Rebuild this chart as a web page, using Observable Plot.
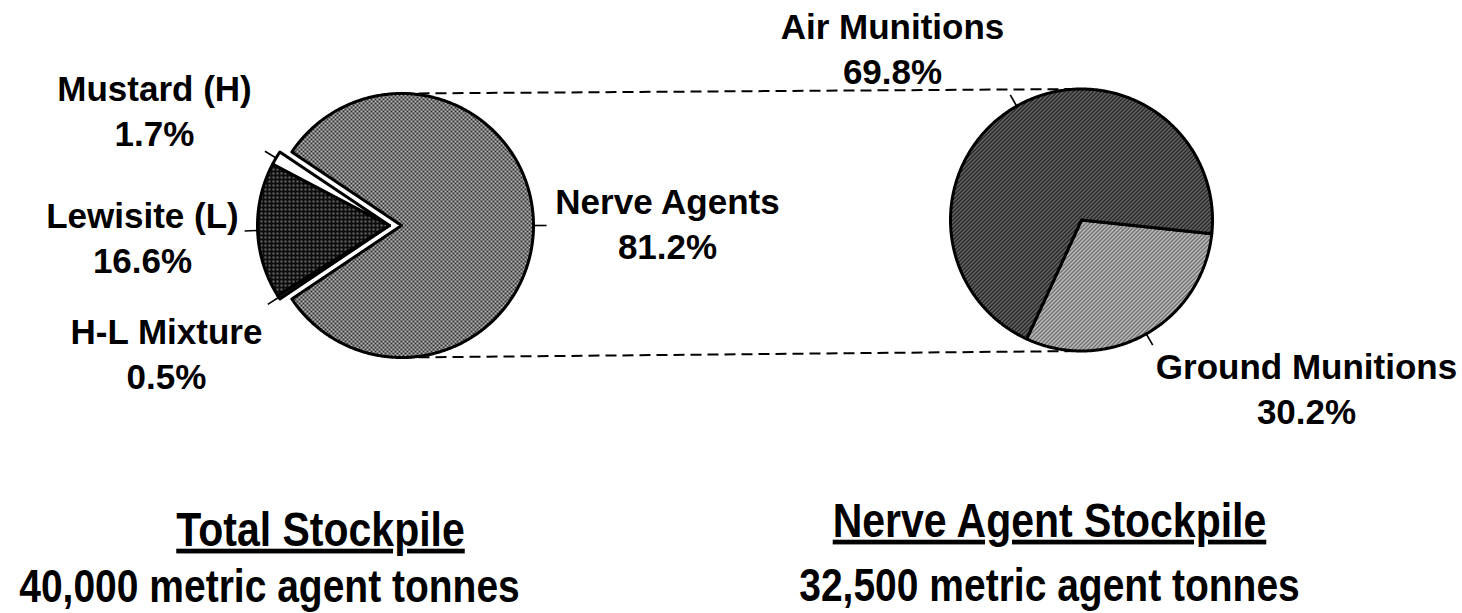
<!DOCTYPE html>
<html><head><meta charset="utf-8">
<script src="https://cdn.jsdelivr.net/npm/d3@7"></script>
<script src="https://cdn.jsdelivr.net/npm/@observablehq/plot@0.6"></script>
<style>body{margin:0;background:#fff;} #chart svg{display:block;}</style>
</head><body><div id="chart"></div>
<script>
// ---------------- data ----------------
const totalCategories = ["Nerve Agents", "H-L Mixture", "Lewisite (L)", "Mustard (H)"];
const totalShares = [81.2, 0.5, 16.6, 1.7];
const totalExploded = [false, true, true, true];
const nerveCategories = ["Ground Munitions", "Air Munitions"];
const nerveShares = [30.2, 69.8];
const pieTitles = ["Total Stockpile", "Nerve Agent Stockpile"];
const pieTonnes = ["40,000", "32,500"];
const tonnesUnit = "metric agent tonnes";

// ---------------- layout ----------------
const W = 1462, H = 613;
const rad = d => d * Math.PI / 180;
const pies = [
  {cats: totalCategories, shares: totalShares, exploded: totalExploded,
   cx: 401, cy: 225, r: 132, start: 90 - totalShares[0] * 1.8, explode: 12, explodeDir: 270},
  {cats: nerveCategories, shares: nerveShares, exploded: [false, false],
   cx: 1081, cy: 219.5, r: 131, start: 96, explode: 0, explodeDir: 0}
];
// label anchor: centre x, baseline of percentage line
const labelAnchor = {
  "Mustard (H)": [154, 145],
  "Lewisite (L)": [142, 272],
  "H-L Mixture": [166, 388],
  "Nerve Agents": [667, 258],
  "Air Munitions": [892, 83],
  "Ground Munitions": [1306, 423]
};
const titleAnchor = [[320, 545, 601], [1049, 536, 600]];
const fills = {
  "Nerve Agents": "url(#pNerve)",
  "Lewisite (L)": "url(#pLew)",
  "Mustard (H)": "#ffffff",
  "H-L Mixture": "#1a1a1a",
  "Air Munitions": "url(#pAir)",
  "Ground Munitions": "url(#pGround)"
};

const points = [], leaders = [], labels = [];
pies.forEach(p => {
  let a = p.start;
  p.cats.forEach((c, i) => {
    const span = p.shares[i] / 100 * 360;
    const a0 = a; a += span;
    const off = p.exploded[i] ? p.explode : 0;
    const cx = p.cx + off * Math.sin(rad(p.explodeDir));
    const cy = p.cy - off * Math.cos(rad(p.explodeDir));
    points.push({key: c, x: cx, y: cy});
    const n = Math.max(2, Math.ceil(span / 0.5));
    for (let k = 0; k <= n; k++) {
      const t = rad(a0 + span * k / n);
      points.push({key: c, x: cx + p.r * Math.sin(t), y: cy - p.r * Math.cos(t)});
    }
    points.push({key: c, x: cx, y: cy});
    const m = rad(a0 + span / 2);
    leaders.push({x1: cx + (p.r - 1) * Math.sin(m), y1: cy - (p.r - 1) * Math.cos(m),
                  x2: cx + (p.r + 13) * Math.sin(m), y2: cy - (p.r + 13) * Math.cos(m)});
    const [lx, ly] = labelAnchor[c];
    labels.push({x: lx, y: ly, text: c + "\n" + p.shares[i].toFixed(1) + "%"});
  });
});
const connectors = [
  {x1: pies[0].cx, y1: pies[0].cy - pies[0].r, x2: pies[1].cx, y2: pies[1].cy - pies[1].r},
  {x1: pies[0].cx, y1: pies[0].cy + pies[0].r, x2: pies[1].cx, y2: pies[1].cy + pies[1].r}
];
const titles = [], subtitles = [];
pieTitles.forEach((t, i) => {
  titles.push({x: titleAnchor[i][0], y: titleAnchor[i][1], text: t});
  subtitles.push({x: titleAnchor[i][0] - (i === 0 ? 51 : 0), y: titleAnchor[i][2], text: pieTonnes[i] + " " + tonnesUnit});
});

const allCats = [...totalCategories, ...nerveCategories];
const chart = Plot.plot({
  width: W, height: H,
  margin: 0,
  x: {domain: [0, W], range: [0, W], axis: null},
  y: {domain: [0, H], range: [0, H], axis: null},
  color: {type: "ordinal", domain: allCats, range: allCats.map(c => fills[c])},
  style: {background: "#fff", fontFamily: "'Liberation Sans', Arial, sans-serif", color: "#000"},
  marks: [
    Plot.link(connectors, {x1: "x1", y1: "y1", x2: "x2", y2: "y2", stroke: "#000", strokeWidth: 2, strokeDasharray: "11,6"}),
    Plot.line(points, {x: "x", y: "y", z: "key", fill: "key", stroke: "#000", strokeWidth: 3, strokeLinejoin: "round", strokeLinecap: "round", curve: "linear"}),
    Plot.link(leaders, {x1: "x1", y1: "y1", x2: "x2", y2: "y2", stroke: "#000", strokeWidth: 1.6}),
    Plot.text(labels, {x: "x", y: "y", text: "text", fontSize: 35, fontWeight: "bold", lineAnchor: "bottom", lineHeight: 1.28, fill: "#000"}),
    Plot.text(titles, {x: "x", y: "y", text: "text", fontSize: 41, fontWeight: "bold", lineAnchor: "bottom", fill: "#000"}),
    Plot.text(subtitles, {x: "x", y: "y", text: "text", fontSize: 39, fontWeight: "bold", lineAnchor: "bottom", fill: "#000"})
  ]
});

const defs = `<defs>
<pattern id="pNerve" width="4" height="4" patternUnits="userSpaceOnUse"><rect width="4" height="4" fill="#bdbdbd"/><rect width="2" height="2" fill="#2e2e2e"/><rect x="2" y="2" width="2" height="2" fill="#2e2e2e"/></pattern>
<pattern id="pLew" width="4" height="4" patternUnits="userSpaceOnUse"><rect width="4" height="4" fill="#0d0d0d"/><rect width="2" height="2" fill="#6a6a6a"/></pattern>
<pattern id="pAir" width="4" height="4" patternUnits="userSpaceOnUse"><rect width="4" height="4" fill="#9a9a9a"/><path d="M-1,1L1,-1M0,4L4,0M3,5L5,3" stroke="#151515" stroke-width="1.8"/></pattern>
<pattern id="pGround" width="4" height="4" patternUnits="userSpaceOnUse"><rect width="4" height="4" fill="#d4d4d4"/><path d="M-1,1L1,-1M0,4L4,0M3,5L5,3" stroke="#3a3a3a" stroke-width="1.2"/></pattern>
</defs>`;
chart.insertAdjacentHTML("afterbegin", defs);

// stretch bottom titles vertically (scanned original is taller) and underline the headings
const headSet = new Set(titles.map(d => d.text));
const subSet = new Set(subtitles.map(d => d.text));
chart.querySelectorAll("text").forEach(t => {
  const s = t.textContent;
  const isHead = headSet.has(s), isSub = subSet.has(s);
  if (!isHead && !isSub) return;
  const sy = isHead ? 1.15 : 1.18;
  let tr = t.getAttribute("transform");
  if (!tr) {
    const x = +(t.getAttribute("x") || 0), y = +(t.getAttribute("y") || 0);
    t.removeAttribute("x"); t.removeAttribute("y");
    tr = `translate(${x},${y})`;
  }
  t.setAttribute("transform", tr + ` scale(1,${sy})`);
  if (isHead) {
    t.setAttribute("text-decoration", "underline");
    t.style.textDecoration = "underline";
    t.style.textDecorationThickness = "3px";
  }
});

document.getElementById("chart").appendChild(chart);
</script>
</body></html>
